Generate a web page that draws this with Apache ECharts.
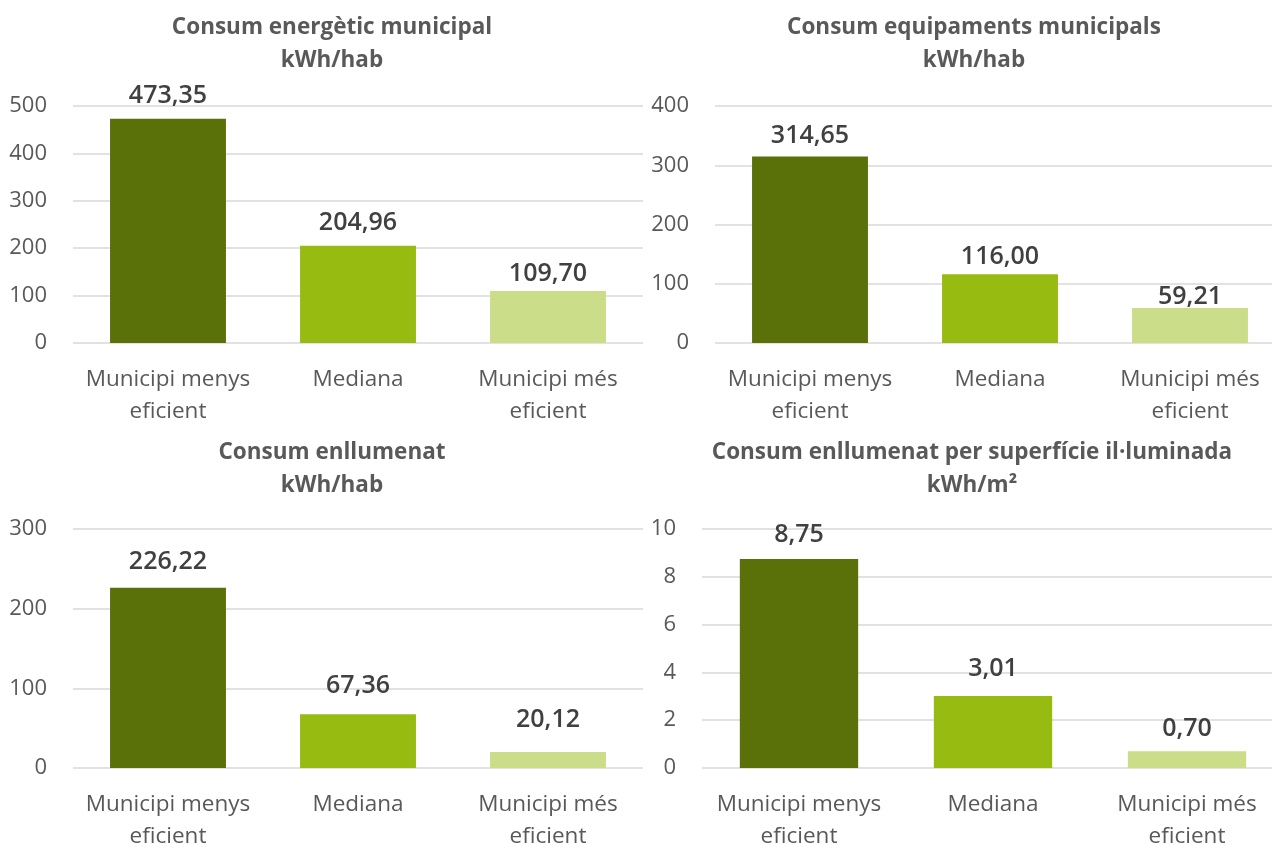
<!DOCTYPE html>
<html>
<head>
<meta charset="utf-8">
<script src="https://cdn.jsdelivr.net/npm/echarts@6/dist/echarts.min.js"></script>
<style>
  html, body { margin: 0; padding: 0; background: #ffffff; }
  #chart { width: 1272px; height: 844px; }
</style>
</head>
<body>
<div id="chart"></div>
<script>
// Categories shared by the four panels
const categories = ['Municipi menys eficient', 'Mediana', 'Municipi més eficient'];

// Panel titles (title line, unit line)
const titles = [
  ['Consum energètic municipal', 'kWh/hab'],
  ['Consum equipaments municipals', 'kWh/hab'],
  ['Consum enllumenat', 'kWh/hab'],
  ['Consum enllumenat per superfície il·luminada', 'kWh/m²']
];

// Values per panel
const consumEnergetic = [473.35, 204.96, 109.70];
const consumEquipaments = [314.65, 116.00, 59.21];
const consumEnllumenat = [226.22, 67.36, 20.12];
const consumSuperficie = [8.75, 3.01, 0.70];

// Y axis scales per panel
const axisMax = [500, 400, 300, 10];
const axisStep = [100, 100, 100, 2];

const barColors = ['#5A7009', '#97BB10', '#CCDD89'];
const seriesData = [consumEnergetic, consumEquipaments, consumEnllumenat, consumSuperficie];

const FONT = 'Open Sans';
const gridRects = [
  { left: 73, top: 106, width: 570, height: 237 },
  { left: 715, top: 106, width: 570, height: 237 },
  { left: 73, top: 529, width: 570, height: 239 },
  { left: 702, top: 529, width: 582, height: 239 }
];
const titlePos = [
  { left: 332, top: 11 },
  { left: 974, top: 11 },
  { left: 332, top: 436 },
  { left: 972, top: 436 }
];
// Gap between each value label and the top of its bar
const labelGaps = [
  [10, 10, 5],
  [8, 5, -1],
  [13, 16, 20],
  [12, 15, 10]
];

const fmt = v => v.toFixed(2).replace('.', ',');

const option = {
  backgroundColor: '#ffffff',
  animation: false,
  title: titles.map((t, i) => ({
    text: t[0] + '\n' + t[1],
    left: titlePos[i].left,
    top: titlePos[i].top,
    textAlign: 'center',
    padding: 0,
    textStyle: { fontFamily: FONT, fontSize: 22.5, fontWeight: 'bold', color: '#595959', lineHeight: 33 }
  })),
  grid: gridRects.map(g => Object.assign({ containLabel: false, outerBoundsMode: 'none' }, g)),
  xAxis: gridRects.map((g, i) => ({
    type: 'category',
    gridIndex: i,
    data: categories,
    axisLine: { show: false },
    axisTick: { show: false },
    axisLabel: {
      interval: 0,
      margin: 21,
      fontFamily: FONT,
      fontSize: 22.5,
      color: '#595959',
      lineHeight: 32,
      formatter: v => v.replace(' eficient', '\neficient')
    }
  })),
  yAxis: gridRects.map((g, i) => ({
    type: 'value',
    gridIndex: i,
    min: 0,
    max: axisMax[i],
    interval: axisStep[i],
    axisLine: { show: false },
    axisTick: { show: false },
    axisLabel: { margin: 26, fontFamily: FONT, fontSize: 22, color: '#595959' },
    splitLine: { lineStyle: { color: '#D9D9D9', width: 1.5 } }
  })),
  series: seriesData.map((d, i) => ({
    type: 'bar',
    xAxisIndex: i,
    yAxisIndex: i,
    data: d.map((v, j) => ({ value: v, label: { distance: labelGaps[i][j] } })),
    barCategoryGap: '39%',
    itemStyle: { color: p => barColors[p.dataIndex] },
    label: {
      show: true,
      position: 'top',
      fontFamily: FONT,
      fontSize: 25,
      fontWeight: 600,
      color: '#404040',
      formatter: p => fmt(p.value)
    }
  }))
};

const chart = echarts.init(document.getElementById('chart'), null, { renderer: 'canvas' });
chart.setOption(option);
</script>
</body>
</html>
